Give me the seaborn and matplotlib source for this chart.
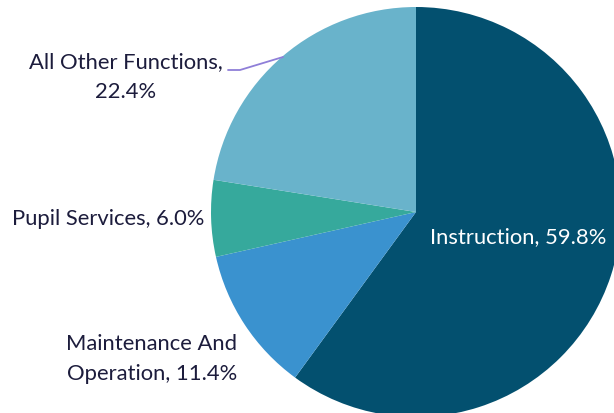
import matplotlib
matplotlib.use("Agg")
import matplotlib.pyplot as plt
import seaborn as sns

categories = ["Instruction", "Maintenance And Operation", "Pupil Services", "All Other Functions"]
values = [59.8, 11.4, 6.0, 22.4]
labels = ["Instruction, 59.8%", "Maintenance And\nOperation, 11.4%", "Pupil Services, 6.0%", "All Other Functions,\n22.4%"]
colors = ["#03506f", "#3a92cf", "#36a99c", "#69b3cb"]

sns.set_theme(style="white")
plt.rcParams['font.family'] = ['Lato', 'DejaVu Sans']

fig = plt.figure(figsize=(6.14, 4.13), dpi=100)
ax = fig.add_axes([0, 0, 1, 1])

cx, cy, r = 416, 413 - 212, 205
ax.pie(values, colors=colors, startangle=90, counterclock=False,
       center=(cx, cy), radius=r, frame=True,
       wedgeprops=dict(linewidth=0))
ax.set_xlim(0, 614)
ax.set_ylim(0, 413)
ax.set_aspect('equal')
ax.axis('off')

tc = "#1c1c3c"
fs = 15.8
ax.text(518, 413 - 237, labels[0], color="white", fontsize=fs, ha="center", va="center")
ax.text(152, 413 - 359, labels[1], color=tc, fontsize=fs, ha="center", va="center", linespacing=1.6)
ax.text(108, 413 - 219, labels[2], color=tc, fontsize=fs, ha="center", va="center")
ax.text(126, 413 - 77, labels[3], color=tc, fontsize=fs, ha="center", va="center", linespacing=1.6)
ax.plot([228, 240, 283], [413 - 70, 413 - 70, 413 - 57], color="#8f7fd8", lw=1.3)

fig.savefig("out.png", dpi=100)
